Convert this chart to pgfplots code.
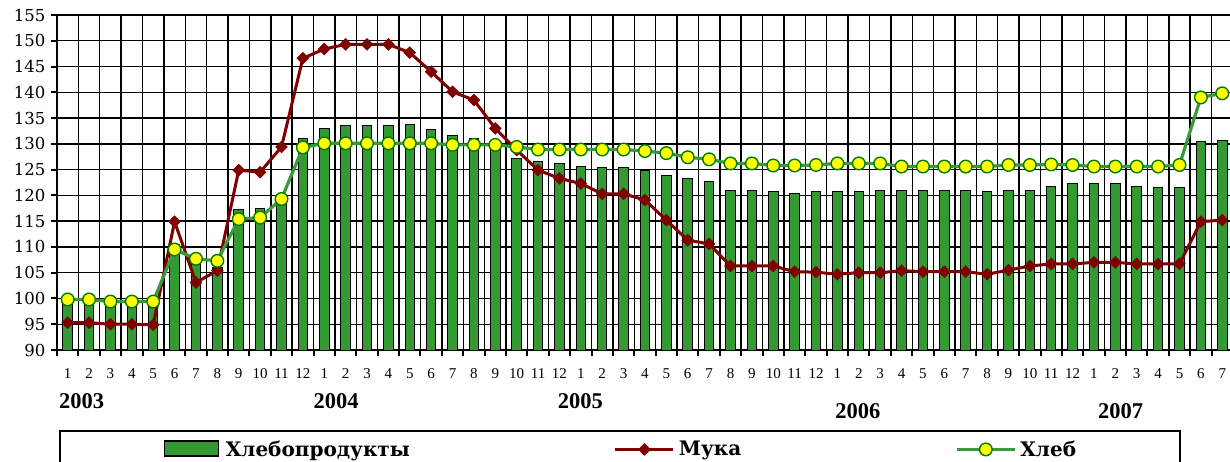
\documentclass[border=0pt]{standalone}
\usepackage{pgfplots}
\pgfplotsset{compat=1.18}
\usepackage{pgfplotstable}
\usepackage{fontspec}
\setmainfont{DejaVu Serif}
\newfontfamily\libser{Liberation Serif}
\definecolor{barG}{HTML}{339933}
\definecolor{mukaR}{HTML}{800000}
\definecolor{hlebL}{HTML}{3A9A3A}
\definecolor{hlebO}{HTML}{007A00}
\definecolor{hlebF}{HTML}{FFFF00}
\pgfplotsset{longline legend/.style={legend image code/.code={\draw[mark repeat=2, mark phase=2, ##1] plot coordinates {(0pt,0pt) (29pt,0pt) (58pt,0pt)};}}}

\pgfplotstableread{
x bar muka hleb
0 99.5 95.3 99.8
1 99.5 95.3 99.8
2 99.2 95.0 99.4
3 99.2 95.0 99.4
4 99.2 94.9 99.4
5 110.5 114.9 109.5
6 106.5 103.1 107.7
7 106.0 105.4 107.3
8 117.2 124.9 115.4
9 117.5 124.5 115.7
10 119.8 129.4 119.3
11 131.1 146.6 129.3
12 133.0 148.4 130.1
13 133.5 149.3 130.1
14 133.5 149.3 130.1
15 133.5 149.3 130.1
16 133.8 147.7 130.1
17 132.7 144.0 130.1
18 131.6 140.1 129.8
19 131.0 138.5 129.8
20 130.5 133.0 129.8
21 127.1 128.8 129.4
22 126.5 124.9 128.9
23 126.1 123.3 128.9
24 125.7 122.3 128.9
25 125.4 120.3 128.9
26 125.4 120.3 128.9
27 124.8 119.1 128.6
28 123.8 115.2 128.2
29 123.3 111.3 127.4
30 122.7 110.6 127.0
31 121.0 106.3 126.2
32 121.0 106.3 126.2
33 120.7 106.3 125.8
34 120.3 105.2 125.8
35 120.7 105.1 125.9
36 120.7 104.7 126.2
37 120.7 105.0 126.2
38 121.0 105.0 126.2
39 121.0 105.4 125.6
40 121.0 105.2 125.6
41 121.0 105.2 125.6
42 121.0 105.2 125.6
43 120.7 104.7 125.6
44 121.0 105.5 125.9
45 121.0 106.3 125.9
46 121.8 106.7 126.0
47 122.3 106.7 125.9
48 122.3 107.0 125.6
49 122.3 107.0 125.6
50 121.8 106.7 125.6
51 121.5 106.7 125.6
52 121.5 106.7 125.9
53 130.4 114.9 139.0
54 130.7 115.2 139.8
}\datatable

\begin{document}
\begin{tikzpicture}
\begin{axis}[
  at={(57pt,111pt)}, anchor=south west,
  scale only axis, width=1176pt, height=335pt,
  xmin=-0.5, xmax=54.5, ymin=90, ymax=155,
  axis lines*=left,
  axis line style={line width=2.5pt, black},
  clip mode=individual,
  xtick={0,...,54},
  xticklabels={1,2,3,4,5,6,7,8,9,10,11,12,1,2,3,4,5,6,7,8,9,10,11,12,1,2,3,4,5,6,7,8,9,10,11,12,1,2,3,4,5,6,7,8,9,10,11,12,1,2,3,4,5,6,7},
  major x tick style={draw=none},
  minor xtick={-0.5,0.5,...,54.5},
  xminorgrids=true,
  minor x tick style={line width=2pt, black},
  minor tick length=6pt,
  ytick={90,95,...,155},
  ymajorgrids=true,
  grid style={line width=1.4pt, black},
  minor grid style={line width=1.4pt, black},
  tick align=outside,
  major tick length=6pt,
  y tick style={line width=2pt, black},
  /pgf/number format/assume math mode=true,
  yticklabel style={font=\fontsize{16.5}{18}\selectfont, xshift=-2pt},
  xticklabel style={font=\libser\fontsize{15}{17}\selectfont, yshift=-9pt},
  legend columns=3,
  legend style={at={(0.0017,-0.2388)}, anchor=north west, draw=black, line width=1.8pt,
    inner xsep=100pt, inner ysep=8pt,
    font=\fontsize{20}{24}\selectfont\bfseries,
    nodes={inner ysep=2pt, inner xsep=4pt},
    /tikz/column 2/.style={column sep=200pt},
    /tikz/column 4/.style={column sep=210pt}},
]
\addplot[ybar, bar width=9.5pt, fill=barG, draw=black, line width=1pt,
  legend image code/.code={\path[draw=none, fill=none] (0pt,0pt) -- (62pt,0pt);\draw[fill=barG, draw=black, line width=1.2pt] (5pt,-6.5pt) rectangle (59pt,8.5pt);}]
  table[x=x, y=bar] {\datatable};
\addlegendentry{Хлебопродукты}
\addplot[mukaR, line width=3pt, mark=square*, mark size=4.2pt,
  mark options={rotate=45, fill=mukaR, draw=mukaR, line width=0.5pt},
  longline legend]
  table[x=x, y=muka] {\datatable};
\addlegendentry{Мука}
\addplot[hlebL, line width=3.2pt, mark=*, mark size=6.3pt,
  mark options={fill=hlebF, draw=hlebO, line width=1.4pt},
  longline legend]
  table[x=x, y=hleb] {\datatable};
\addlegendentry{Хлеб}
\node[font=\libser\fontsize{22.5}{24}\selectfont\bfseries, anchor=base, yshift=-58pt] at (axis cs:0.65,90) {2003};
\node[font=\libser\fontsize{22.5}{24}\selectfont\bfseries, anchor=base, yshift=-58pt] at (axis cs:12.55,90) {2004};
\node[font=\libser\fontsize{22.5}{24}\selectfont\bfseries, anchor=base, yshift=-58pt] at (axis cs:23.98,90) {2005};
\node[font=\libser\fontsize{22.5}{24}\selectfont\bfseries, anchor=base, yshift=-68pt] at (axis cs:36.96,90) {2006};
\node[font=\libser\fontsize{22.5}{24}\selectfont\bfseries, anchor=base, yshift=-68pt] at (axis cs:49.25,90) {2007};
\end{axis}
\pgfresetboundingbox
\useasboundingbox (0,0) rectangle (1230pt,461pt);
\end{tikzpicture}
\end{document}
